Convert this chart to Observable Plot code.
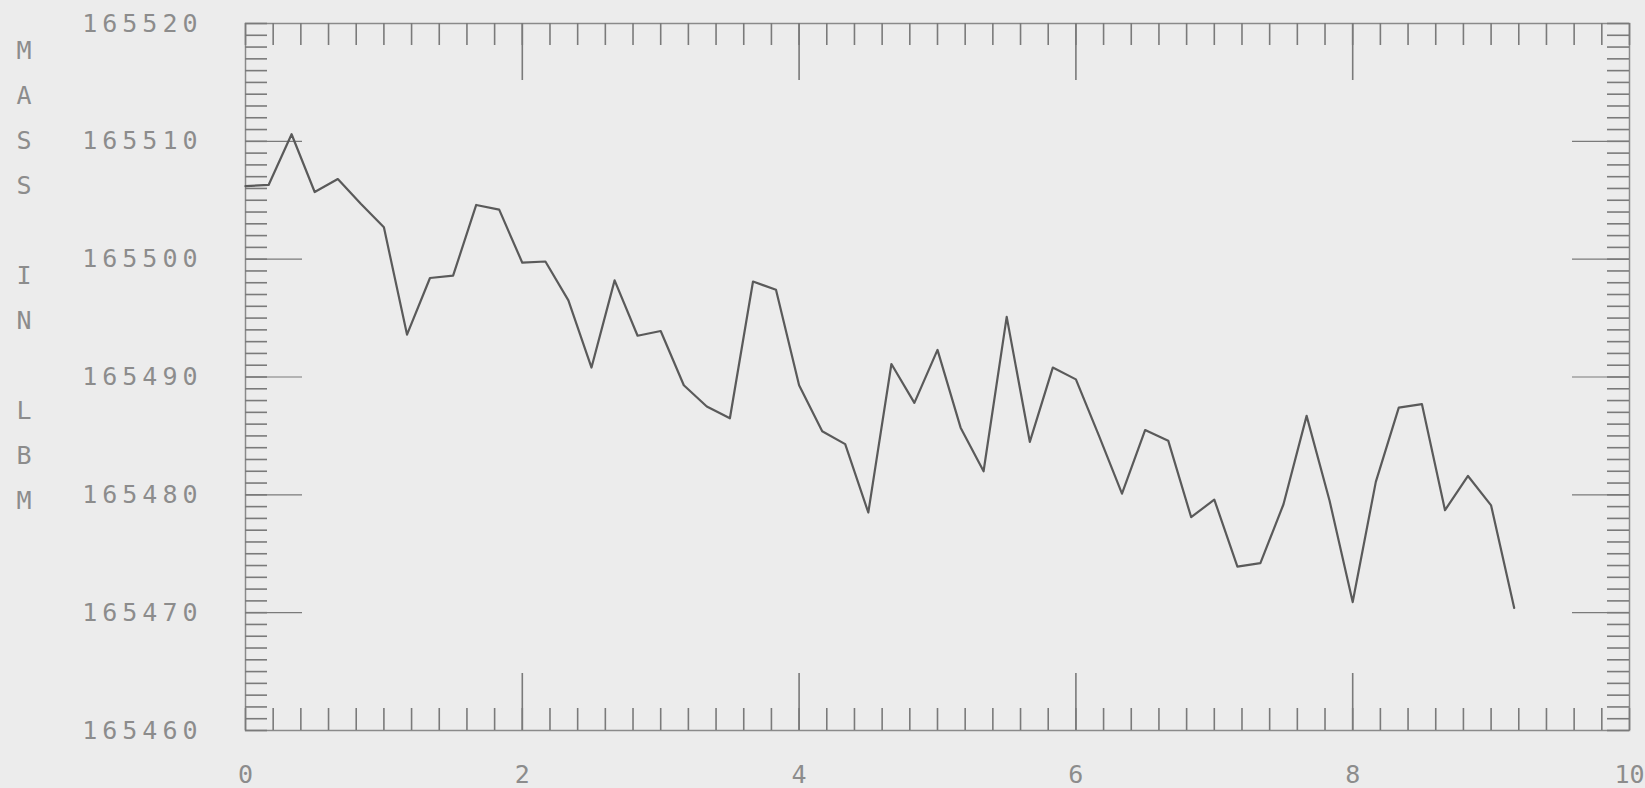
<!DOCTYPE html>
<html><head><meta charset="utf-8">
<script src="https://cdn.jsdelivr.net/npm/d3@7"></script>
<script src="https://cdn.jsdelivr.net/npm/@observablehq/plot@0.6"></script>
<style>
html,body{margin:0;padding:0;background:#ececec;}
#chart svg text{letter-spacing:5px;}
#chart svg g[aria-label="x-axis tick label"] text{letter-spacing:0;}
</style></head><body><div id="chart"></div>
<script>
// Time (hours) of each mass reading
const hours = [0.000,0.167,0.333,0.500,0.667,0.833,1.000,1.167,1.333,1.500,
  1.667,1.833,2.000,2.167,2.333,2.500,2.667,2.833,3.000,3.167,
  3.333,3.500,3.667,3.833,4.000,4.167,4.333,4.500,4.667,4.833,
  5.000,5.167,5.333,5.500,5.667,5.833,6.000,6.167,6.333,6.500,
  6.667,6.833,7.000,7.167,7.333,7.500,7.667,7.833,8.000,8.167,
  8.333,8.500,8.667,8.833,9.000,9.167];
// Mass in LBM
const mass = [165506.2,165506.3,165510.6,165505.7,165506.8,165504.7,165502.7,165493.6,165498.4,165498.6,
  165504.6,165504.2,165499.7,165499.8,165496.5,165490.8,165498.2,165493.5,165493.9,165489.3,
  165487.5,165486.5,165498.1,165497.4,165489.3,165485.4,165484.3,165478.5,165491.1,165487.8,
  165492.3,165485.7,165482.0,165495.1,165484.5,165490.8,165489.8,165485.0,165480.1,165485.5,
  165484.6,165478.1,165479.6,165473.9,165474.2,165479.2,165486.7,165479.5,165470.9,165481.1,
  165487.4,165487.7,165478.7,165481.6,165479.1,165470.4];
const xTickValues = [0, 2, 4, 6, 8, 10];
const yTickValues = [165460, 165470, 165480, 165490, 165500, 165510, 165520];
const yAxisTitle = "MASS IN LBM";

const data = hours.map((h, i) => ({h, m: mass[i]}));

const W = 1645, H = 788, mL = 245, mR = 16, mT = 23, mB = 58;
const innerW = W - mL - mR, innerH = H - mT - mB;
const minorX = d3.range(0, 51).map(i => i / 5);
const majorX = [2, 4, 6, 8];
const minorY = d3.range(165460, 165521);
const majorY = [165470, 165480, 165490, 165500, 165510];
const minorLen = 22, majorLen = 57;
const tickColor = "#7a7a7a";

const chart = Plot.plot({
  width: W, height: H,
  marginLeft: mL, marginRight: mR, marginTop: mT, marginBottom: mB,
  style: {background: "#ececec", fontFamily: "'DejaVu Sans Mono', monospace", fontSize: "25px", color: "#8c8c8c"},
  x: {domain: [0, 10], label: null},
  y: {domain: [165460, 165520], label: null},
  marks: [
    Plot.frame({stroke: "#8a8a8a", strokeWidth: 1.5}),
    // bottom ticks
    Plot.tickX(minorX, {x: d => d, insetTop: innerH - minorLen, stroke: tickColor, strokeWidth: 1.6}),
    Plot.tickX(majorX, {x: d => d, insetTop: innerH - majorLen, stroke: tickColor, strokeWidth: 1.6}),
    // top ticks
    Plot.tickX(minorX, {x: d => d, insetBottom: innerH - minorLen, stroke: tickColor, strokeWidth: 1.6}),
    Plot.tickX(majorX, {x: d => d, insetBottom: innerH - majorLen, stroke: tickColor, strokeWidth: 1.6}),
    // left ticks
    Plot.tickY(minorY, {y: d => d, insetRight: innerW - minorLen, stroke: tickColor, strokeWidth: 1.6}),
    Plot.tickY(majorY, {y: d => d, insetRight: innerW - majorLen, stroke: tickColor, strokeWidth: 1.2}),
    // right ticks
    Plot.tickY(minorY, {y: d => d, insetLeft: innerW - minorLen, stroke: tickColor, strokeWidth: 1.6}),
    Plot.tickY(majorY, {y: d => d, insetLeft: innerW - majorLen, stroke: tickColor, strokeWidth: 1.2}),
    Plot.axisX({ticks: xTickValues, tickSize: 0, tickPadding: 35, tickFormat: d3.format("d")}),
    Plot.axisY({ticks: yTickValues, tickSize: 0, tickPadding: 43, tickFormat: d3.format("d")}),
    Plot.line(data, {x: "h", y: "m", stroke: "#5a5a5a", strokeWidth: 2.2}),
    Plot.text([yAxisTitle.split("").join("\n")], {
      text: d => d, frameAnchor: "left", dx: -219, dy: -107,
      lineHeight: 1.8, textAnchor: "middle", lineAnchor: "middle", fill: "#8c8c8c"
    })
  ]
});
document.getElementById("chart").append(chart);
</script></body></html>
